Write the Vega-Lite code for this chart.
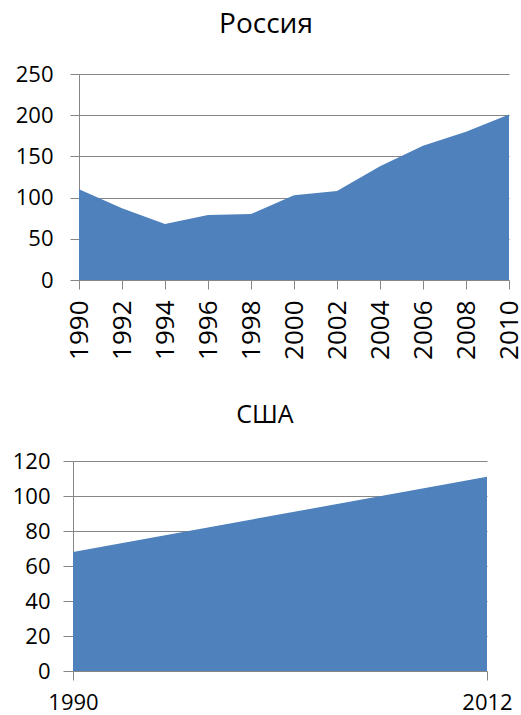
{
  "$schema": "https://vega.github.io/schema/vega-lite/v6.json",
  "padding": {"left": 12, "top": 11, "right": 0, "bottom": 0},
  "background": "white",
  "config": {
    "view": {"stroke": null},
    "font": "Open Sans",
    "axis": {
      "labelColor": "#000000",
      "labelFont": "Open Sans",
      "domainColor": "#868686",
      "tickColor": "#868686",
      "gridColor": "#868686",
      "gridOpacity": 1,
      "title": null
    },
    "title": {"font": "Open Sans", "fontWeight": "normal", "color": "#000000"}
  },
  "datasets": {
    "russia": [
      {"year": "1990", "value": 110},
      {"year": "1992", "value": 87},
      {"year": "1994", "value": 68},
      {"year": "1996", "value": 79},
      {"year": "1998", "value": 80},
      {"year": "2000", "value": 103},
      {"year": "2002", "value": 108},
      {"year": "2004", "value": 138},
      {"year": "2006", "value": 163},
      {"year": "2008", "value": 180},
      {"year": "2010", "value": 201}
    ],
    "usa": [
      {"year": "1990", "value": 68},
      {"year": "2012", "value": 111}
    ]
  },
  "spacing": 43,
  "vconcat": [
    {
      "title": {"text": "Россия", "fontSize": 28, "offset": 24, "dx": -28},
      "width": 430,
      "height": 206,
      "data": {"name": "russia"},
      "mark": {"type": "area", "color": "#4F81BD", "opacity": 1},
      "encoding": {
        "x": {
          "field": "year", "type": "ordinal",
          "scale": {"type": "point", "padding": 0},
          "axis": {"labelAngle": -90, "labelFontSize": 26, "labelPadding": 11, "tickSize": 9, "domain": false}
        },
        "y": {
          "field": "value", "type": "quantitative",
          "scale": {"domain": [0, 250], "nice": false},
          "axis": {"values": [0, 50, 100, 150, 200, 250], "labelFontSize": 22, "labelPadding": 17, "tickSize": 9, "minExtent": 67, "maxExtent": 67, "grid": true}
        }
      }
    },
    {
      "title": {"text": "США", "fontSize": 25, "offset": 22, "dx": -18},
      "width": 408,
      "height": 210,
      "data": {"name": "usa"},
      "mark": {"type": "area", "color": "#4F81BD", "opacity": 1},
      "encoding": {
        "x": {
          "field": "year", "type": "ordinal",
          "scale": {"type": "point", "padding": 0, "range": [-6, 408]},
          "axis": {"labelAngle": 0, "labelFontSize": 22, "labelPadding": 12, "tickSize": 9, "domain": false}
        },
        "y": {
          "field": "value", "type": "quantitative",
          "scale": {"domain": [0, 120], "nice": false},
          "axis": {"values": [0, 20, 40, 60, 80, 100, 120], "labelFontSize": 22, "labelPadding": 13, "tickSize": 10, "offset": 6, "grid": true}
        }
      }
    }
  ]
}
